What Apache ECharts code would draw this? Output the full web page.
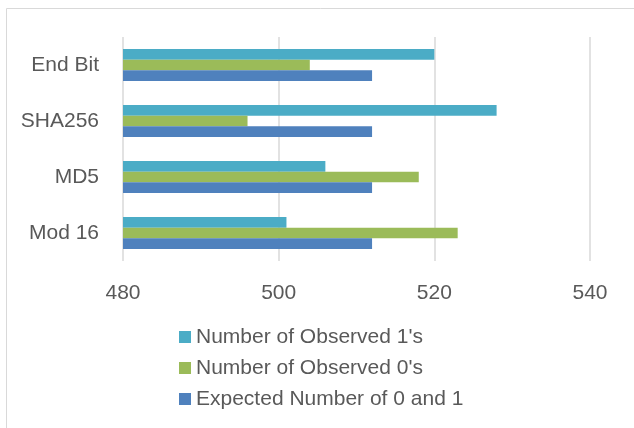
<!DOCTYPE html>
<html>
<head>
<meta charset="utf-8">
<script src="https://cdn.jsdelivr.net/npm/echarts@6/dist/echarts.min.js"></script>
<style>
html, body { margin: 0; padding: 0; background: #fff; }
#chart { width: 634px; height: 428px; }
</style>
</head>
<body>
<div id="chart"></div>
<script>
// categories from bottom to top
let methods = ['Mod 16', 'MD5', 'SHA256', 'End Bit']
let expected = [512, 512, 512, 512]
let observed0 = [523, 518, 496, 504]
let observed1 = [501, 506, 528, 520]
let xTicks = [480, 500, 520, 540]

let chart = echarts.init(document.getElementById('chart'));
let font = 'Liberation Sans'
let textColor = '#595959'

let option = {
    animation: false,
    graphic: [{
        type: 'rect',
        shape: {x: 6.5, y: 8.5, width: 700, height: 500},
        style: {fill: 'none', stroke: '#d9d9d9', lineWidth: 1}
    }],
    grid: {left: 123, right: 44, top: 37, bottom: 167},
    legend: {
        orient: 'vertical',
        left: 174,
        top: 320,
        itemWidth: 12,
        itemHeight: 12,
        itemGap: 7,
        icon: 'rect',
        textStyle: {color: textColor, fontSize: 21, fontFamily: font, lineHeight: 24}
    },
    xAxis: {
        type: 'value',
        min: xTicks[0],
        max: xTicks[xTicks.length - 1],
        interval: 20,
        axisLine: {show: false},
        axisTick: {show: false},
        axisLabel: {color: textColor, fontSize: 21, fontFamily: font, margin: 22},
        splitLine: {show: true, lineStyle: {color: '#d9d9d9', width: 1.5}}
    },
    yAxis: {
        type: 'category',
        data: methods,
        axisLine: {show: false},
        axisTick: {show: false},
        axisLabel: {color: textColor, fontSize: 21, fontFamily: font, margin: 24}
    },
    series: [
        {
            name: "Number of Observed 1's",
            type: 'bar',
            data: observed1,
            barGap: '0%',
            barCategoryGap: '43%',
            itemStyle: {color: '#4bacc6'}
        },
        {
            name: "Number of Observed 0's",
            type: 'bar',
            data: observed0,
            barGap: '0%',
            barCategoryGap: '43%',
            itemStyle: {color: '#9bbb59'}
        },
        {
            name: 'Expected Number of 0 and 1',
            type: 'bar',
            data: expected,
            barGap: '0%',
            barCategoryGap: '43%',
            itemStyle: {color: '#4f81bd'}
        }
    ]
};
chart.setOption(option);
</script>
</body>
</html>
